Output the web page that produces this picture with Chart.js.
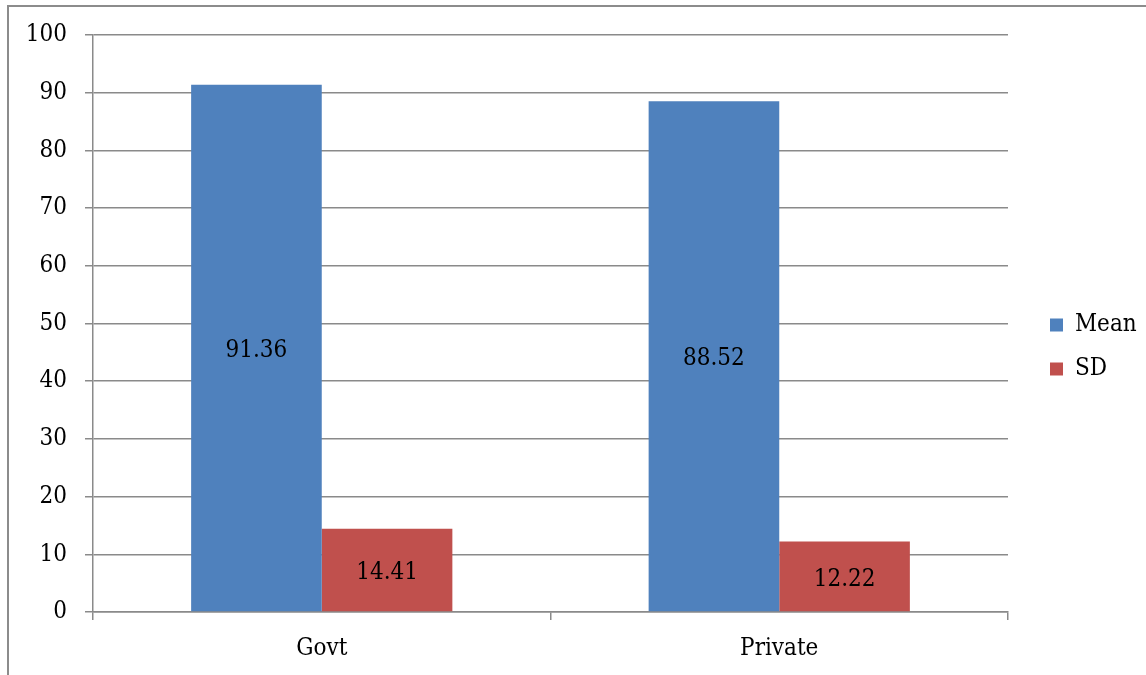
<!DOCTYPE html>
<html>
<head>
<meta charset="utf-8">
<script src="https://cdn.jsdelivr.net/npm/chart.js@4/dist/chart.umd.min.js"></script>
<style>
  html, body { margin: 0; padding: 0; background: #fff; overflow: hidden; }
  #frame { position: absolute; left: 7px; top: 5px; width: 1200px; height: 720px; border: 2px solid #8c8c8c; box-sizing: border-box; }
  #wrap { position: absolute; left: 0; top: 0; width: 1146px; height: 675px; }
</style>
</head>
<body>
<div id="frame"></div>
<div id="wrap"><canvas id="c" width="1146" height="675"></canvas></div>
<script>
const categories = ["Govt", "Private"];
const meanValues = [91.36, 88.52];
const sdValues = [14.41, 12.22];
const seriesNames = ["Mean", "SD"];

const FONT = "'DejaVu Serif Condensed', 'DejaVu Serif', 'Liberation Serif', serif";
const FSIZE = 24;
const GRID = "#8a8a8a";

const barLabels = {
  id: 'barLabels',
  afterDatasetsDraw(chart) {
    const ctx = chart.ctx;
    ctx.save();
    ctx.font = FSIZE + "px " + FONT;
    ctx.fillStyle = "#000";
    ctx.textAlign = "center";
    ctx.textBaseline = "middle";
    chart.data.datasets.forEach((ds, i) => {
      chart.getDatasetMeta(i).data.forEach((bar, j) => {
        const v = ds.data[j];
        const y = (bar.y + bar.base) / 2 + 3;
        ctx.fillText(v.toFixed(2), bar.x, y);
      });
    });
    ctx.restore();
  }
};

const legendFix = {
  id: 'legendFix',
  beforeLayout(chart) {
    const lg = chart.legend;
    if (lg && !lg._patched) {
      const orig = lg.fit.bind(lg);
      lg.fit = function () { orig(); this.width = 138; };
      lg._patched = true;
    }
  },
  afterLayout(chart) {
    const lg = chart.legend;
    if (lg) { lg.left += 22; lg.right += 22; }
  }
};

new Chart(document.getElementById('c'), {
  type: 'bar',
  data: {
    labels: categories,
    datasets: [
      { label: seriesNames[0], data: meanValues, backgroundColor: '#4F81BD', borderWidth: 0 },
      { label: seriesNames[1], data: sdValues, backgroundColor: '#C0504D', borderWidth: 0 }
    ]
  },
  options: {
    responsive: false,
    animation: false,
    devicePixelRatio: 1,
    layout: { padding: { top: 35, left: 0, right: 0, bottom: 16 } },
    datasets: { bar: { categoryPercentage: 0.571, barPercentage: 1.0 } },
    plugins: {
      legend: {
        position: 'right',
        align: 'center',
        labels: {
          font: { family: FONT, size: FSIZE },
          color: '#000',
          boxWidth: 13,
          boxHeight: 13,
          padding: 20
        }
      },
      tooltip: { enabled: false }
    },
    scales: {
      x: {
        grid: { offset: true, drawOnChartArea: false, drawTicks: true, tickLength: 8, color: GRID, lineWidth: 1.5 },
        border: { color: GRID, width: 1.5 },
        ticks: { font: { family: FONT, size: FSIZE }, color: '#000', padding: 14 },
        afterFit(s) { s.height = 47; }
      },
      y: {
        min: 0, max: 100,
        ticks: { stepSize: 10, font: { family: FONT, size: FSIZE }, color: '#000', padding: 18 },
        grid: { color: GRID, lineWidth: 1.5, tickLength: 8 },
        border: { color: GRID, width: 1.5 },
        afterFit(s) { s.width = 93; }
      }
    }
  },
  plugins: [barLabels, legendFix]
});
</script>
</body>
</html>
